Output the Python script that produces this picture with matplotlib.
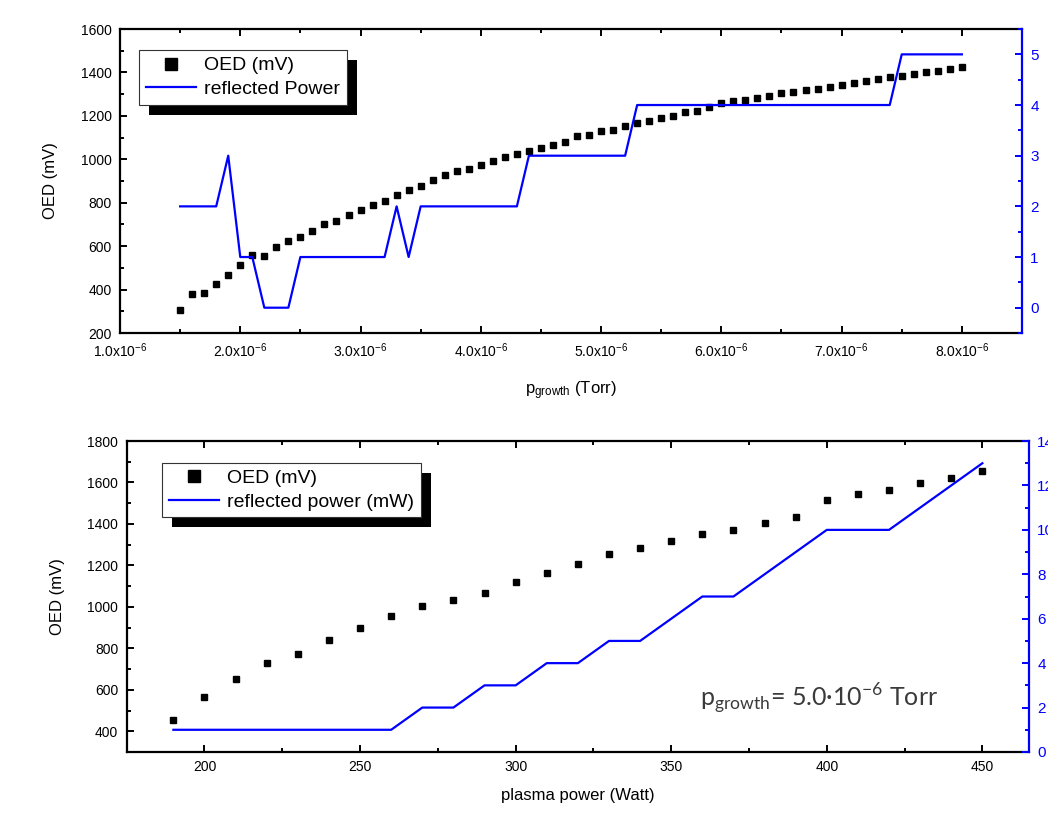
import matplotlib
matplotlib.use('Agg')
import matplotlib.pyplot as plt
from matplotlib.ticker import MultipleLocator, FuncFormatter
from matplotlib.patches import Rectangle

plt.rcParams['font.family'] = ['Liberation Sans', 'DejaVu Sans']
plt.rcParams['mathtext.fontset'] = 'custom'
plt.rcParams['mathtext.rm'] = 'Liberation Sans'
plt.rcParams['mathtext.it'] = 'Liberation Sans:italic'

# -- Top panel: OED and reflected power vs growth pressure (x in units of 1e-6 Torr)
p_growth = [1.5, 1.6, 1.7, 1.8, 1.9, 2.0, 2.1, 2.2, 2.3, 2.4, 2.5, 2.6, 2.7, 2.8,
            2.9, 3.0, 3.1, 3.2, 3.3, 3.4, 3.5, 3.6, 3.7, 3.8, 3.9, 4.0, 4.1, 4.2,
            4.3, 4.4, 4.5, 4.6, 4.7, 4.8, 4.9, 5.0, 5.1, 5.2, 5.3, 5.4, 5.5, 5.6,
            5.7, 5.8, 5.9, 6.0, 6.1, 6.2, 6.3, 6.4, 6.5, 6.6, 6.7, 6.8, 6.9, 7.0,
            7.1, 7.2, 7.3, 7.4, 7.5, 7.6, 7.7, 7.8, 7.9, 8.0]
oed_top = [306, 380, 386, 426, 469, 515, 559, 553, 596, 622, 641, 668, 702, 717,
           745, 766, 788, 808, 834, 858, 877, 903, 926, 946, 957, 972, 992, 1012,
           1025, 1037, 1052, 1067, 1081, 1106, 1113, 1129, 1135, 1153, 1168, 1175, 1190, 1201,
           1216, 1224, 1241, 1258, 1269, 1273, 1284, 1292, 1304, 1312, 1319, 1325, 1332, 1344,
           1353, 1362, 1371, 1378, 1385, 1393, 1402, 1408, 1416, 1424]
refl_top = [2, 2, 2, 2, 3, 1, 1, 0, 0, 0, 1, 1, 1, 1,
            1, 1, 1, 1, 2, 1, 2, 2, 2, 2, 2, 2, 2, 2,
            2, 3, 3, 3, 3, 3, 3, 3, 3, 3, 4, 4, 4, 4,
            4, 4, 4, 4, 4, 4, 4, 4, 4, 4, 4, 4, 4, 4,
            4, 4, 4, 4, 5, 5, 5, 5, 5, 5]

# -- Bottom panel: OED and reflected power vs plasma power
plasma_power = [190, 200, 210, 220, 230, 240, 250, 260, 270, 280, 290, 300, 310, 320,
                330, 340, 350, 360, 370, 380, 390, 400, 410, 420, 430, 440, 450]
oed_bot = [455, 564, 654, 730, 772, 841, 900, 958, 1002, 1032, 1069, 1122, 1163, 1206,
           1253, 1284, 1320, 1353, 1372, 1407, 1433, 1517, 1544, 1564, 1597, 1622, 1655]
refl_bot = [1, 1, 1, 1, 1, 1, 1, 1, 2, 2, 3, 3, 4, 4,
            5, 5, 6, 7, 7, 8, 9, 10, 10, 10, 11, 12, 13]

BLUE = '#0000ff'

fig = plt.figure(figsize=(10.48, 8.27), dpi=100)
ax_top = fig.add_axes([0.1145, 0.5973, 0.8607, 0.3676])
ax_bot = fig.add_axes([0.1209, 0.0907, 0.8610, 0.3760])


def style_left(ax):
    for s in ['left', 'bottom', 'top']:
        ax.spines[s].set_linewidth(1.6)
    ax.spines['right'].set_visible(False)
    ax.tick_params(which='both', direction='in', top=True, right=False, width=1.4,
                   labelsize=10, pad=6)
    ax.tick_params(which='major', length=5)
    ax.tick_params(which='minor', length=3)


def style_right(ax2):
    for s in ['left', 'bottom', 'top']:
        ax2.spines[s].set_visible(False)
    ax2.spines['right'].set_color(BLUE)
    ax2.spines['right'].set_linewidth(1.6)
    ax2.tick_params(which='both', direction='in', colors=BLUE, width=1.4,
                    labelsize=11, pad=6)
    ax2.tick_params(which='major', length=5)
    ax2.tick_params(which='minor', length=3)


def add_shadow_legend(ax, handles, labels, anchor):
    leg = ax.legend(handles, labels, loc='upper left', bbox_to_anchor=anchor,
                    borderaxespad=0, fontsize=14, frameon=True, fancybox=False,
                    framealpha=1, edgecolor='#333333', handlelength=2.6,
                    handletextpad=0.4, labelspacing=0.3, borderpad=0.35,
                    markerscale=1.8)
    leg.get_frame().set_linewidth(0.8)
    leg.set_zorder(10)
    return leg


# -- Top panel
ax_top.plot(p_growth, oed_top, 's', color='black', ms=5, label='OED (mV)')
ax_top.set_xlim(1.0, 8.5)
ax_top.set_ylim(200, 1600)
ax_top.xaxis.set_major_locator(MultipleLocator(1.0))
ax_top.xaxis.set_minor_locator(MultipleLocator(0.5))
ax_top.yaxis.set_major_locator(MultipleLocator(200))
ax_top.yaxis.set_minor_locator(MultipleLocator(100))
ax_top.xaxis.set_major_formatter(FuncFormatter(lambda v, p: r'%.1fx10$^{-6}$' % v))
style_left(ax_top)
ax_top.set_ylabel('OED (mV)', fontsize=12, labelpad=16)
ax_top.set_xlabel(r'p$_{\mathregular{growth}}$ (Torr)', fontsize=12, labelpad=14)

ax_top2 = ax_top.twinx()
ax_top2.plot(p_growth, refl_top, '-', color=BLUE, lw=1.6, label='reflected Power')
ax_top2.set_ylim(-0.5, 5.5)
ax_top2.yaxis.set_major_locator(MultipleLocator(1))
ax_top2.yaxis.set_minor_locator(MultipleLocator(0.5))
style_right(ax_top2)

h1, l1 = ax_top.get_legend_handles_labels()
h2, l2 = ax_top2.get_legend_handles_labels()
leg_top = add_shadow_legend(ax_top2, h1 + h2, l1 + l2, (0.021, 0.931))

# -- Bottom panel
ax_bot.plot(plasma_power, oed_bot, 's', color='black', ms=5, label='OED (mV)')
ax_bot.set_xlim(175, 465)
ax_bot.set_ylim(300, 1800)
ax_bot.xaxis.set_major_locator(MultipleLocator(50))
ax_bot.xaxis.set_minor_locator(MultipleLocator(25))
ax_bot.yaxis.set_major_locator(MultipleLocator(200))
ax_bot.yaxis.set_minor_locator(MultipleLocator(100))
style_left(ax_bot)
ax_bot.set_ylabel('OED (mV)', fontsize=12, labelpad=16)
ax_bot.set_xlabel('plasma power (Watt)', fontsize=12, labelpad=10)

ax_bot2 = ax_bot.twinx()
ax_bot2.plot(plasma_power, refl_bot, '-', color=BLUE, lw=1.6, label='reflected power (mW)')
ax_bot2.set_ylim(0, 14)
ax_bot2.yaxis.set_major_locator(MultipleLocator(2))
ax_bot2.yaxis.set_minor_locator(MultipleLocator(1))
style_right(ax_bot2)

h1, l1 = ax_bot.get_legend_handles_labels()
h2, l2 = ax_bot2.get_legend_handles_labels()
leg_bot = add_shadow_legend(ax_bot2, h1 + h2, l1 + l2, (0.0388, 0.930))

ax_bot2.text(0.635, 0.148, u'p$_\\mathregular{growth}$= 5.0\u00b710$^\\mathregular{-6}$ Torr',
             transform=ax_bot2.transAxes, fontsize=18, color='#3a3a3a',
             family=['Lato', 'DejaVu Sans'], va='baseline', ha='left')

# -- Black drop shadow behind each legend box (offset 10 px right and down)
fig.canvas.draw()
for ax, leg in ((ax_top2, leg_top), (ax_bot2, leg_bot)):
    bb = leg.get_frame().get_window_extent()
    inv = ax.transAxes.inverted()
    (x0, y0), (x1, y1) = inv.transform([(bb.x0 + 10, bb.y0 - 10), (bb.x1 + 10, bb.y1 - 10)])
    ax.add_patch(Rectangle((x0, y0), x1 - x0, y1 - y0, transform=ax.transAxes,
                           facecolor='black', edgecolor='none', zorder=9))

fig.savefig('out.png', dpi=100)
